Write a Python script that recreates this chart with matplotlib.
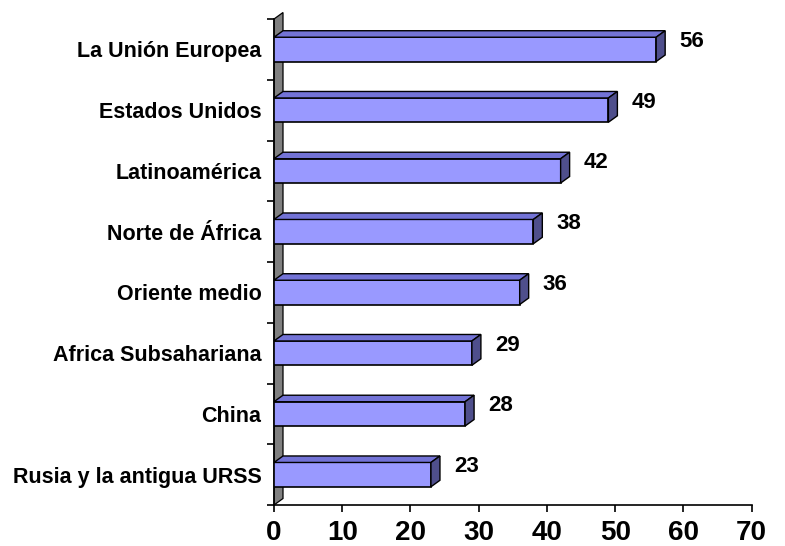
import matplotlib
matplotlib.use("Agg")
import matplotlib.pyplot as plt
from matplotlib.patches import Polygon

categories = ["La Unión Europea", "Estados Unidos", "Latinoamérica", "Norte de África",
              "Oriente medio", "Africa Subsahariana", "China", "Rusia y la antigua URSS"]
values = [56, 49, 42, 38, 36, 29, 28, 23]
xticks = [0, 10, 20, 30, 40, 50, 60, 70]

FRONT = "#9999FF"
TOP = "#7373D6"
SIDE = "#4F4F8C"
WALL = "#808080"
FONT = "Liberation Sans"

W, H = 785, 546
fig = plt.figure(figsize=(W / 100, H / 100), dpi=100)
ax = fig.add_axes([274 / W, 41 / H, (751.7 - 274) / W, (505 - 19) / H])

n = len(categories)
ypos = [n - 1 - i for i in range(n)]
ax.set_xlim(0, 70)
ax.set_ylim(-0.5, n - 0.5)

# depth offset in pixels -> data units
DXP, DYP = 9.0, 6.5
inv = ax.transData.inverted()
p0 = inv.transform(ax.transData.transform((0, 0)))
p1 = inv.transform(ax.transData.transform((0, 0)) + [DXP, DYP])
ddx, ddy = p1 - p0

# back wall
wall = Polygon([(0, -0.5), (0, n - 0.5), (ddx, n - 0.5 + ddy), (ddx, -0.5 + ddy)],
               closed=True, facecolor=WALL, edgecolor="black", lw=0.9, zorder=1, clip_on=False)
ax.add_patch(wall)

h = 0.4
ax.barh(ypos, values, height=h, color=FRONT, edgecolor="black", linewidth=1.2, zorder=3)
for y, v in zip(ypos, values):
    top = Polygon([(0, y + h / 2), (ddx, y + h / 2 + ddy), (v + ddx, y + h / 2 + ddy), (v, y + h / 2)],
                  closed=True, facecolor=TOP, edgecolor="black", lw=1.0, zorder=3, clip_on=False)
    side = Polygon([(v, y - h / 2), (v, y + h / 2), (v + ddx, y + h / 2 + ddy), (v + ddx, y - h / 2 + ddy)],
                   closed=True, facecolor=SIDE, edgecolor="black", lw=1.0, zorder=3, clip_on=False)
    ax.add_patch(top)
    ax.add_patch(side)
    ax.annotate(str(v), xy=(v + ddx, y), xytext=(14, 8), textcoords="offset pixels",
                ha="left", va="center", fontsize=16, fontweight="bold", family=FONT, zorder=5)

for s in ["top", "right"]:
    ax.spines[s].set_visible(False)
ax.spines["left"].set_linewidth(1.2)
ax.spines["bottom"].set_linewidth(1.2)
ax.spines["left"].set_zorder(2)

ax.set_xticks(xticks)
ax.set_xticklabels([str(t) for t in xticks], fontsize=20, fontweight="bold", family=FONT)
ax.tick_params(axis="x", direction="out", length=5, width=1.2, pad=6)

ax.set_yticks(ypos)
ax.set_yticklabels(categories, fontsize=15.5, fontweight="bold", family=FONT)
ax.tick_params(axis="y", which="major", length=0, pad=9)
ax.set_yticks([i - 0.5 for i in range(n + 1)], minor=True)
ax.tick_params(axis="y", which="minor", direction="out", length=5, width=1.2)

fig.savefig("out.png", dpi=100)
